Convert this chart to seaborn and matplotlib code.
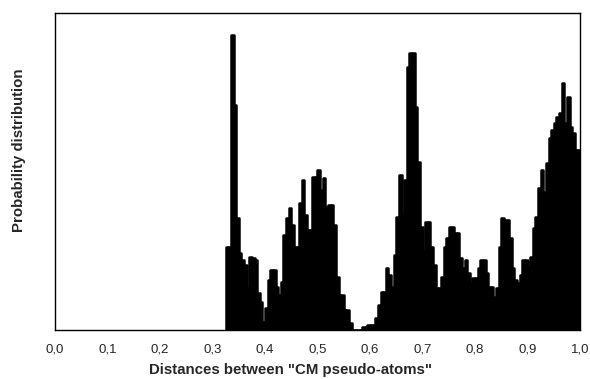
import numpy as np
import pandas as pd
import matplotlib
matplotlib.use("Agg")
import matplotlib.pyplot as plt
import seaborn as sns

# Histogram bins (distance, left edges) and relative heights
bin_start = 0.325
bin_width = 0.005
heights = [
    83, 83, 295, 225, 112, 77, 70, 65, 42, 73,
    72, 70, 37, 28, 8, 22, 50, 60, 60, 43,
    35, 48, 95, 112, 122, 105, 83, 83, 127, 150,
    115, 100, 100, 153, 153, 160, 140, 152, 123, 125,
    125, 105, 53, 35, 35, 20, 20, 7, 0, 0,
    0, 0, 3, 3, 5, 5, 5, 12, 25, 38,
    38, 62, 55, 43, 75, 113, 155, 117, 150, 263,
    277, 277, 223, 168, 103, 80, 108, 108, 83, 65,
    42, 42, 53, 83, 92, 103, 103, 97, 97, 72,
    62, 70, 57, 47, 52, 52, 62, 70, 70, 57,
    43, 43, 33, 42, 83, 112, 110, 110, 92, 62,
    50, 47, 55, 70, 70, 63, 73, 102, 113, 142,
    160, 138, 167, 192, 200, 207, 213, 217, 247, 207,
    233, 203, 197, 180, 180,
]
tick_values = [0.0, 0.1, 0.2, 0.3, 0.4, 0.5, 0.6, 0.7, 0.8, 0.9, 1.0]
tick_labels = ["0,0", "0,1", "0,2", "0,3", "0,4", "0,5", "0,6", "0,7", "0,8", "0,9", "1,0"]

n = len(heights)
centers = bin_start + bin_width * (np.arange(n) + 0.5)
df = pd.DataFrame({"distance": centers, "weight": np.asarray(heights, dtype=float)})

sns.set_style("white")
plt.rcParams["font.family"] = ["Liberation Sans", "DejaVu Sans"]

fig = plt.figure(figsize=(5.9, 3.79), dpi=100)
ax = fig.add_axes([55 / 590, 49 / 379, 525 / 590, 317 / 379])

sns.histplot(data=df, x="distance", weights="weight",
             binwidth=bin_width, binrange=(bin_start, bin_start + n * bin_width),
             ax=ax, color="black", edgecolor="black", linewidth=1.8, alpha=1.0)
for p in ax.patches:
    p.set_joinstyle("round")
    p.set_capstyle("round")

ax.set_xlim(0, 1.0)
ax.set_ylim(0, 317)
ax.set_xticks(tick_values)
ax.set_xticklabels(tick_labels, fontsize=9.5)
ax.set_yticks([])
ax.tick_params(axis="x", length=0, pad=9.5)
for s in ax.spines.values():
    s.set_visible(True)
    s.set_color("black")
    s.set_linewidth(1.0)

ax.set_xlabel('Distances between "CM pseudo-atoms"', fontsize=10.8, fontweight="bold")
ax.set_ylabel("Probability distribution", fontsize=10.8, fontweight="bold")
ax.xaxis.set_label_coords(0.448, -0.104)
ax.yaxis.set_label_coords(-0.055, 0.568)

fig.savefig("out.png", dpi=100)
